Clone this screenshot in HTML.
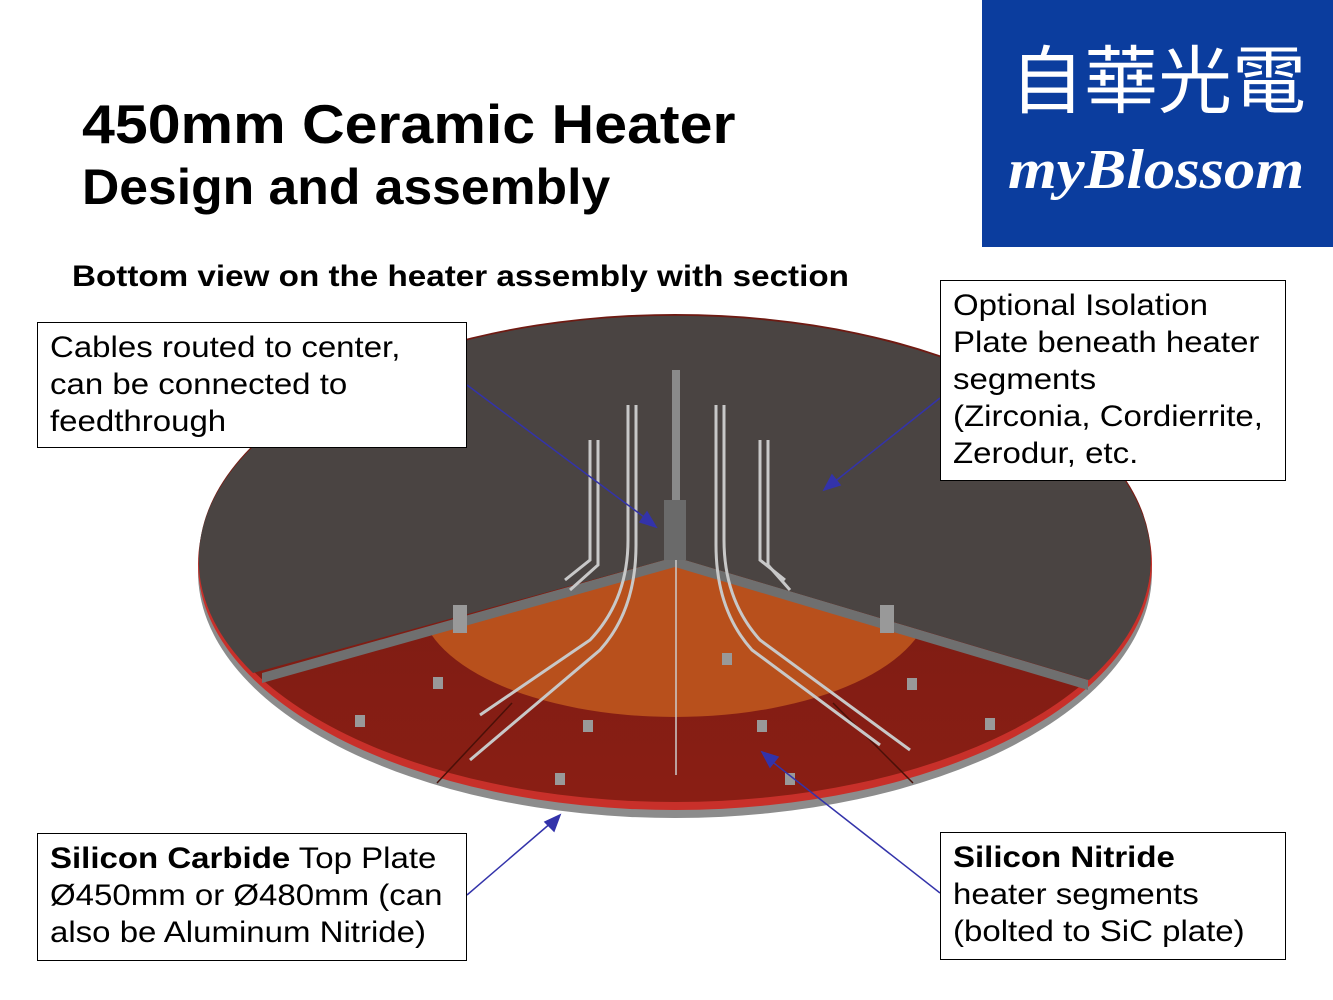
<!DOCTYPE html>
<html><head><meta charset="utf-8"><style>
body{margin:0;width:1333px;height:1000px;background:#fff;position:relative;overflow:hidden;font-family:"Liberation Sans",Arial,sans-serif;}
.t{position:absolute;color:#000;white-space:nowrap;transform-origin:left top}
.box{position:absolute;border:1.5px solid #000;background:#fff;box-sizing:border-box;font-size:30px;line-height:37px;padding:6px 12px;white-space:nowrap}
.box span{display:inline-block;transform:scaleX(1.1);transform-origin:left top}
</style></head><body>
<div class="t" style="left:82px;top:92px;font-size:55px;font-weight:bold;transform:scaleX(1.074)">450mm Ceramic Heater</div>
<div class="t" style="left:82px;top:158px;font-size:50px;font-weight:bold;transform:scaleX(1.033)">Design and assembly</div>
<div style="position:absolute;left:982px;top:0;width:351px;height:247px;background:#0b3d9e"></div>
<div class="t" style="left:1010px;top:28px;font-size:74px;color:#fff;font-family:'Noto Sans CJK TC',sans-serif;letter-spacing:0px;line-height:96px;transform:scaleX(1.0)">自華光電</div>
<div class="t" style="left:1008px;top:138px;font-size:56px;color:#fff;font-family:'Liberation Serif',serif;font-style:italic;font-weight:bold;transform:scaleX(1.12)">myBlossom</div>
<div class="t" style="left:72px;top:260px;font-size:30px;font-weight:bold;transform:scaleX(1.107)">Bottom view on the heater assembly with section</div>

<svg style="position:absolute;left:0;top:0" width="1333" height="1000">
<defs>
<linearGradient id="rg" x1="0" y1="0" x2="0" y2="1"><stop offset="0" stop-color="#6e1a12"/><stop offset="1" stop-color="#8a1e14"/></linearGradient>
<clipPath id="wedge"><path d="M675 557 L264 673 L150 900 L1200 900 L1087 680 Z"/></clipPath>
</defs>
<ellipse cx="675" cy="572" rx="477" ry="246" fill="#8c8c8c"/>
<ellipse cx="675" cy="564" rx="477" ry="246" fill="#c8302a"/>
<ellipse cx="675" cy="558" rx="476" ry="244" fill="url(#rg)"/>
<g clip-path="url(#wedge)">
<ellipse cx="675" cy="600" rx="255" ry="117" fill="#b8501c"/>
<line x1="512" y1="703" x2="437" y2="783" stroke="#4a1008" stroke-width="1.5"/>
<line x1="833" y1="703" x2="913" y2="783" stroke="#4a1008" stroke-width="1.5"/>
</g>
<!-- grey plate -->
<path d="M675 557 L262 673 L262 683 L675 567 L1088 690 L1088 680 Z" fill="#6f6f6f"/>
<path d="M675 557 L253 673 A476 244 0 1 1 1089 680 Z" fill="#4a4442"/>
<!-- center post and cables -->
<rect x="672" y="370" width="8" height="180" fill="#8a8a8a"/>
<rect x="664" y="500" width="22" height="60" fill="#6a6a6a"/>
<line x1="676" y1="560" x2="676" y2="775" stroke="#ccc" stroke-width="1.5"/>
<g fill="none" stroke="#c8c8c8" stroke-width="3">
<path d="M628 405 L628 540 Q628 600 590 640 L480 715"/>
<path d="M636 405 L636 545 Q636 610 600 650 L470 760"/>
<path d="M716 405 L716 545 Q716 610 752 650 L880 745"/>
<path d="M724 405 L724 540 Q724 600 760 640 L910 750"/>
<path d="M590 440 L590 560 L565 580"/>
<path d="M598 440 L598 565 L570 590"/>
<path d="M760 440 L760 560 L785 580"/>
<path d="M768 440 L768 565 L790 590"/>
</g>
<g fill="#999"><rect x="453" y="605" width="14" height="28"/><rect x="880" y="605" width="14" height="28"/>
<rect x="433" y="677" width="10" height="12"/><rect x="355" y="715" width="10" height="12"/><rect x="583" y="720" width="10" height="12"/><rect x="555" y="773" width="10" height="12"/><rect x="757" y="720" width="10" height="12"/><rect x="785" y="773" width="10" height="12"/><rect x="907" y="678" width="10" height="12"/><rect x="985" y="718" width="10" height="12"/><rect x="722" y="653" width="10" height="12"/></g>
<!-- arrows -->
<g stroke="#3333aa" stroke-width="1.5" fill="#3333aa">
<line x1="467" y1="385" x2="648" y2="520"/><path d="M656 527 L640 522 L647 512 Z"/>
<line x1="940" y1="398" x2="833" y2="483"/><path d="M824 490 L832 475 L840 485 Z"/>
<line x1="467" y1="895" x2="552" y2="822"/><path d="M560 815 L554 831 L545 822 Z"/>
<line x1="940" y1="893" x2="770" y2="760"/><path d="M762 752 L778 757 L770 767 Z"/>
</g>
</svg>

<div class="box" style="left:37px;top:322px;width:430px;height:126px"><span>Cables routed to center,<br>can be connected to<br>feedthrough</span></div>
<div class="box" style="left:940px;top:280px;width:346px;height:201px"><span>Optional Isolation<br>Plate beneath heater<br>segments<br>(Zirconia, Cordierrite,<br>Zerodur, etc.</span></div>
<div class="box" style="left:37px;top:833px;width:430px;height:128px"><span><b>Silicon Carbide</b> Top Plate<br>Ø450mm or Ø480mm (can<br>also be Aluminum Nitride)</span></div>
<div class="box" style="left:940px;top:832px;width:346px;height:128px"><span><b>Silicon Nitride</b><br>heater segments<br>(bolted to SiC plate)</span></div>
</body></html>
